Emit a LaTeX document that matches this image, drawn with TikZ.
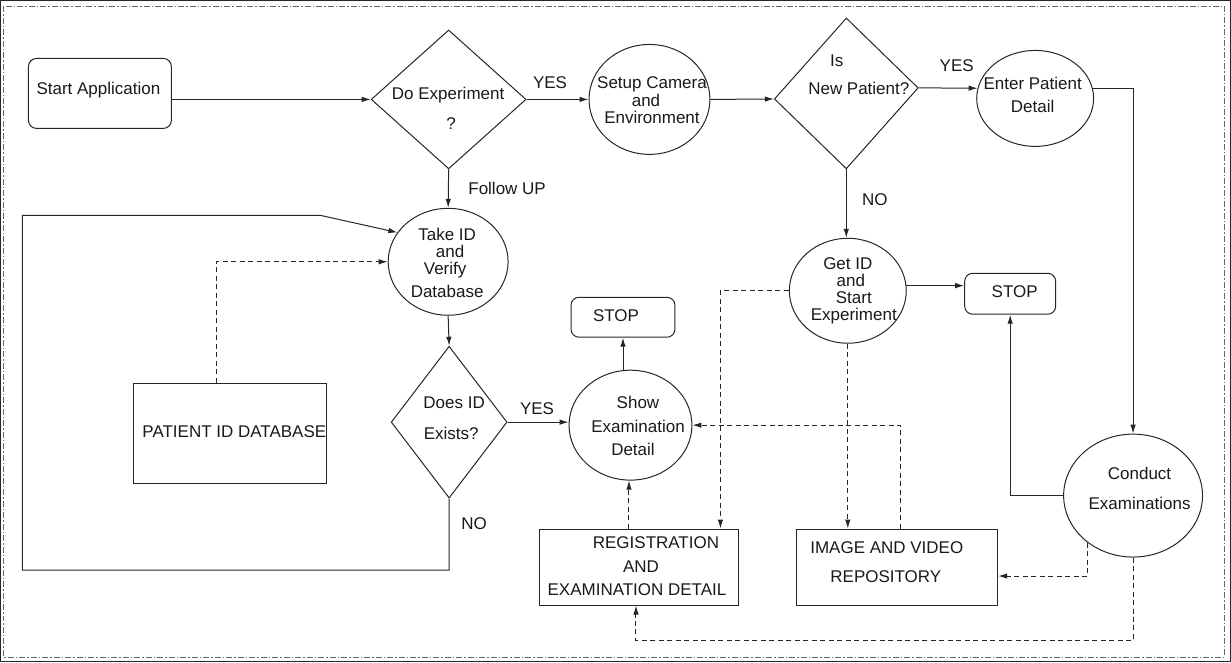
\documentclass[tikz,border=0pt]{standalone}
\usepackage{fontspec}
\setmainfont{Liberation Sans}
\usetikzlibrary{shapes.geometric,arrows.meta}
\begin{document}
\begin{tikzpicture}[x=1pt,y=-1pt,
  every path/.style={line width=1pt, draw=black!85},
  arr/.style={-{Latex[length=9pt,width=5.5pt]}},
  dsh/.style={dash pattern=on 5pt off 3.5pt},
  border/.style={line width=0.7pt, draw=black!60, dash pattern=on 6pt off 2pt on 1.5pt off 2pt},
  rbox/.style={draw, rectangle, rounded corners=8pt, inner sep=0pt},
  sbox/.style={draw, rectangle, inner sep=0pt},
  ell/.style={draw, ellipse, inner sep=0pt},
  dia/.style={draw, diamond, inner sep=0pt},
  txt/.style={inner sep=0pt, anchor=base, font=\fontsize{17}{20}\selectfont, text=black!90},
]
\useasboundingbox (0,0) rectangle (1231,662);
\draw[border] (3,6) rectangle (1225,657);

% shapes
\node[rbox, minimum width=143pt, minimum height=70pt] (start) at (99.5,93) {};
\node[dia, minimum width=155pt, minimum height=139pt] (doexp) at (448.5,99) {};
\node[ell, minimum width=121pt, minimum height=110pt] (setup) at (649.5,99) {};
\begin{scope}[shift={(846.5,93)}, yslant=0.077]
\node[dia, minimum width=144pt, minimum height=151pt, transform shape] (isnew) at (0,0) {};
\end{scope}
\node[ell, minimum width=117pt, minimum height=96pt] (enter) at (1035.5,98) {};
\node[ell, minimum width=120pt, minimum height=107pt] (takeid) at (448,261.5) {};
\node[ell, minimum width=117pt, minimum height=105pt] (getid) at (848,290.5) {};
\node[rbox, minimum width=104pt, minimum height=40pt] (stop1) at (623,317) {};
\node[rbox, minimum width=91pt, minimum height=41pt] (stop2) at (1010.5,293.5) {};
\node[dia, minimum width=116pt, minimum height=152pt] (doesid) at (449,422) {};
\node[ell, minimum width=123pt, minimum height=110pt] (show) at (630.5,425) {};
\node[sbox, minimum width=193pt, minimum height=100pt] (pdb) at (229.5,433) {};
\node[sbox, minimum width=200pt, minimum height=76pt] (reg) at (639,567) {};
\node[sbox, minimum width=201pt, minimum height=76pt] (img) at (897.5,567) {};
\node[ell, minimum width=139pt, minimum height=123pt] (conduct) at (1133.5,495.5) {};

% texts
\node[txt] (t1) at (98,94) {Start Application};
\node[txt] (t2) at (448,99) {Do Experiment};
\node[txt] (t3) at (451,129) {?};
\node[txt] (t4) at (550,88) {YES};
\node[txt] (t5) at (652,88) {Setup Camera};
\node[txt] (t6) at (646,106) {and};
\node[txt] (t7) at (652,123) {Environment};
\node[txt] (t8) at (837,66) {Is};
\node[txt] (t9) at (859,94) {New Patient?};
\node[txt] (t10) at (957,71) {YES};
\node[txt] (t11) at (1033,89) {Enter Patient};
\node[txt] (t12) at (1033,112) {Detail};
\node[txt] (t13) at (507,194) {Follow UP};
\node[txt] (t14) at (875,205) {NO};
\node[txt] (t15) at (447,240) {Take ID};
\node[txt] (t16) at (450,257) {and};
\node[txt] (t17) at (445,274) {Verify};
\node[txt] (t18) at (447,297) {Database};
\node[txt] (t19) at (616,321) {STOP};
\node[txt] (t20) at (454,408) {Does ID};
\node[txt] (t21) at (451,439) {Exists?};
\node[txt] (t22) at (537,414) {YES};
\node[txt] (t23) at (638,408) {Show};
\node[txt] (t24) at (638,432) {Examination};
\node[txt] (t25) at (633,455) {Detail};
\node[txt] (t26) at (474,529) {NO};
\node[txt] (t27) at (656,548) {REGISTRATION};
\node[txt] (t28) at (641,572) {AND};
\node[txt] (t29) at (637,595) {EXAMINATION DETAIL};
\node[txt] (t30) at (848,269) {Get ID};
\node[txt] (t31) at (851,286) {and};
\node[txt] (t32) at (854,303) {Start};
\node[txt] (t33) at (854,320) {Experiment};
\node[txt] (t34) at (1015,297) {STOP};
\node[txt] (t35) at (1140,479) {Conduct};
\node[txt] (t36) at (1140,509) {Examinations};
\node[txt] (t37) at (887,553) {IMAGE AND VIDEO};
\node[txt] (t38) at (886,582) {REPOSITORY};
\node[txt] (t39) at (234,437) {PATIENT ID DATABASE};

% coordinates
\coordinate (n1) at (449,570);
\coordinate (n2) at (22,570);
\coordinate (n3) at (22,215);
\coordinate (n4) at (320,215);

% solid connectors
\draw[arr] (start.east |- doexp.west) -- (doexp.west);
\draw[arr] (doexp.east) -- (setup.west);
\draw[arr] (setup.east) -- (isnew.west);
\draw[arr] (isnew.east) -- (enter.170);
\draw[arr] (enter.10) -| (conduct.north);
\draw[arr] (doexp.south) -- (takeid.north);
\draw[arr] (isnew.south) -- (isnew.south |- getid.north);
\draw[arr] (takeid.south) -- (doesid.north);
\draw[arr] (doesid.east) -- (doesid.east -| show.west);
\draw[arr] (doesid.south) -- (n1) -- (n2) -- (n3) -- (n4) -- (takeid.150);
\draw[arr] (stop1.south |- show.north) -- (stop1.south);
\draw[arr] (getid.5) -- (getid.5 -| stop2.west);
\draw[arr] (conduct.west) -| (stop2.south);

% dashed connectors
\draw[arr,dsh] ([xshift=-13.5pt]pdb.north) |- (takeid.west);
\draw[arr,dsh] (getid.west) -| ([xshift=-19pt]reg.north east);
\draw[arr,dsh] (getid.south) -- (getid.south |- img.north);
\draw[arr,dsh] ([xshift=3.5pt]img.north) |- (show.east);
\draw[arr,dsh] ([xshift=-10pt]reg.north) -- ([xshift=-10pt]reg.north |- show.south);
\draw[arr,dsh] (conduct.226) |- ([yshift=-9pt]img.east);
\draw[arr,dsh] (conduct.south) -- ++(0,83) -| ([xshift=-3pt]reg.south);
\end{tikzpicture}
\end{document}
